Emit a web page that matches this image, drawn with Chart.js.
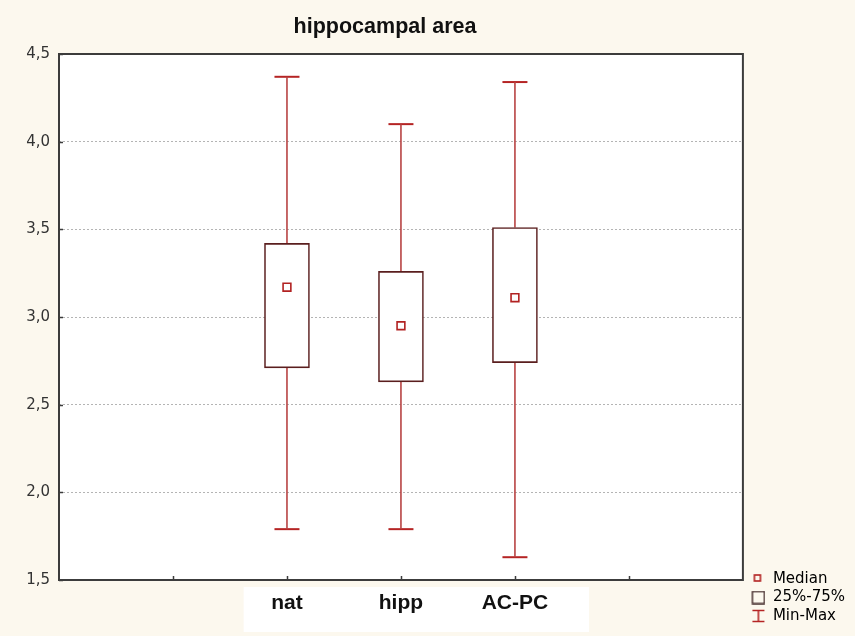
<!DOCTYPE html>
<html>
<head>
<meta charset="utf-8">
<title>hippocampal area</title>
<script src="https://cdn.jsdelivr.net/npm/chart.js"></script>
<style>
  html, body { margin: 0; padding: 0; background: #fcf8ee; }
</style>
</head>
<body>
<canvas id="myChart" width="855" height="636"></canvas>
<script>
// values
const groups = ['nat', 'hipp', 'AC-PC'];
const minVals = [1.79, 1.79, 1.63];
const q1Vals = [2.71, 2.63, 2.74];
const medianVals = [3.17, 2.95, 3.11];
const q3Vals = [3.42, 3.26, 3.51];
const maxVals = [4.37, 4.10, 4.34];
const yTickValues = [1.5, 2.0, 2.5, 3.0, 3.5, 4.0, 4.5];
const legendLabels = ['Median', '25%-75%', 'Min-Max'];
const chartTitle = 'hippocampal area';

const boxColor = '#5a1e1e';
const whiskerColor = '#b84444';
const capColor = '#b52424';
const medianColor = '#b22222';

// groups sit at 2,3,4 on an axis running 0..6
const xPos = i => i + 2;

Chart.defaults.font.family = '"Liberation Sans", Arial, sans-serif';

// small canvases used as legend symbols (blank margin on the left)
function makeIcon(draw) {
  const c = document.createElement('canvas');
  c.width = 19; c.height = 14;
  const g = c.getContext('2d');
  g.translate(5, 0);
  draw(g);
  return c;
}
const medianIcon = makeIcon(g => {
  g.strokeStyle = medianColor; g.lineWidth = 1.6;
  g.strokeRect(3, 3, 6, 6);
});
const boxIcon = makeIcon(g => {
  g.strokeStyle = '#3a2020'; g.lineWidth = 1.4;
  g.strokeRect(1, 1, 12, 12);
});
const rangeIcon = makeIcon(g => {
  g.strokeStyle = capColor; g.lineWidth = 1.6;
  g.beginPath();
  g.moveTo(1, 1.5); g.lineTo(13, 1.5);
  g.moveTo(7, 1.5); g.lineTo(7, 12.5);
  g.moveTo(1, 12.5); g.lineTo(13, 12.5);
  g.stroke();
});
const legendIcons = [medianIcon, boxIcon, rangeIcon];

const whiskerData = [];
groups.forEach((g, i) => {
  whiskerData.push({ x: xPos(i), y: maxVals[i] }, { x: xPos(i), y: q3Vals[i] }, { x: xPos(i), y: null });
  whiskerData.push({ x: xPos(i), y: q1Vals[i] }, { x: xPos(i), y: minVals[i] }, { x: xPos(i), y: null });
});
const capData = [];
groups.forEach((g, i) => {
  capData.push({ x: xPos(i), y: maxVals[i] }, { x: xPos(i), y: minVals[i] });
});

const framePlugin = {
  id: 'frame',
  beforeDraw(chart) {
    const { ctx, chartArea: a, scales } = chart;
    ctx.save();
    ctx.fillStyle = '#fcf8ee';
    ctx.fillRect(0, 0, chart.width, chart.height);
    ctx.fillStyle = '#ffffff';
    ctx.fillRect(a.left, a.top, a.right - a.left, a.bottom - a.top);
    // white strip behind the group names
    const x0 = scales.x.getPixelForValue(1.62);
    const x1 = scales.x.getPixelForValue(4.65);
    ctx.fillRect(x0, a.bottom + 7, x1 - x0, 45);
    ctx.restore();
  },
  afterDraw(chart) {
    const { ctx, chartArea: a, scales } = chart;
    ctx.save();
    ctx.strokeStyle = '#3c3c3c';
    ctx.lineWidth = 2;
    ctx.strokeRect(a.left, a.top, a.right - a.left, a.bottom - a.top);
    // short tick marks pointing into the plot
    ctx.lineWidth = 1.5;
    ctx.beginPath();
    scales.y.ticks.forEach(t => {
      const y = Math.round(scales.y.getPixelForValue(t.value)) + 0.5;
      ctx.moveTo(a.left, y); ctx.lineTo(a.left + 4, y);
    });
    scales.x.ticks.forEach(t => {
      if (t.value <= 0 || t.value >= 6) return;
      const x = Math.round(scales.x.getPixelForValue(t.value)) + 0.5;
      ctx.moveTo(x, a.bottom); ctx.lineTo(x, a.bottom - 4);
    });
    ctx.stroke();
    // title
    ctx.fillStyle = '#111';
    ctx.font = 'bold 21.5px "Liberation Sans", Arial, sans-serif';
    ctx.textAlign = 'center';
    ctx.textBaseline = 'alphabetic';
    ctx.fillText(chartTitle, 385, 33);
    ctx.restore();
  }
};

const ctx = document.getElementById('myChart').getContext('2d');
new Chart(ctx, {
  type: 'bar',
  data: {
    datasets: [
      {
        type: 'scatter',
        label: 'Median',
        data: medianVals.map((v, i) => ({ x: xPos(i), y: v })),
        pointStyle: 'rect',
        pointRadius: 5.5,
        pointBackgroundColor: '#ffffff',
        pointBorderColor: medianColor,
        pointBorderWidth: 1.6,
        order: 0
      },
      {
        type: 'bar',
        label: '25%-75%',
        data: q1Vals.map((v, i) => ({ x: xPos(i), y: [v, q3Vals[i]] })),
        backgroundColor: '#ffffff',
        borderColor: boxColor,
        borderWidth: 1.6,
        borderSkipped: false,
        barThickness: 45,
        order: 1
      },
      {
        type: 'line',
        label: 'whisker',
        data: whiskerData,
        borderColor: whiskerColor,
        borderWidth: 1.6,
        pointRadius: 0,
        spanGaps: false,
        order: 2
      },
      {
        type: 'scatter',
        label: 'Min-Max',
        data: capData,
        pointStyle: 'line',
        pointRadius: 12.5,
        pointBorderColor: capColor,
        pointBorderWidth: 2,
        order: 3
      }
    ]
  },
  options: {
    responsive: false,
    animation: false,
    layout: { padding: { top: 54, left: 0, right: 0, bottom: 9 } },
    plugins: {
      tooltip: { enabled: false },
      title: { display: false },
      legend: {
        position: 'right',
        align: 'end',
        labels: {
          usePointStyle: true,
          pointStyleWidth: 19,
          boxWidth: 14,
          boxHeight: 14,
          padding: 3.5,
          color: '#222',
          font: { family: '"DejaVu Sans", sans-serif', size: 15 },
          generateLabels: () => legendLabels.map((t, i) => ({
            text: t,
            pointStyle: legendIcons[i],
            fillStyle: 'transparent',
            strokeStyle: 'transparent',
            lineWidth: 0,
            hidden: false,
            datasetIndex: i
          }))
        }
      }
    },
    scales: {
      x: {
        type: 'linear',
        min: 0,
        max: 6,
        offset: false,
        grid: { display: false, drawTicks: false },
        border: { display: false },
        afterBuildTicks: s => { s.ticks = [0, 1, 2, 3, 4, 5, 6].map(v => ({ value: v })); },
        ticks: {
          autoSkip: false,
          padding: 11,
          color: '#111',
          font: { size: 21, weight: 'bold' },
          callback: v => groups[Math.round(v) - 2] || ''
        },
        afterFit: s => { s.height = 47; }
      },
      y: {
        min: 1.5,
        max: 4.5,
        grid: { color: '#b4b4b4', lineWidth: 1, drawTicks: false },
        border: { display: false, dash: [2, 2] },
        afterBuildTicks: s => { s.ticks = yTickValues.map(v => ({ value: v })); },
        ticks: {
          padding: 9,
          color: '#333',
          font: { family: '"DejaVu Sans", sans-serif', size: 15 },
          callback: v => v.toFixed(1).replace('.', ',')
        },
        afterFit: s => { s.width = 59; }
      }
    }
  },
  plugins: [framePlugin]
});
</script>
</body>
</html>
